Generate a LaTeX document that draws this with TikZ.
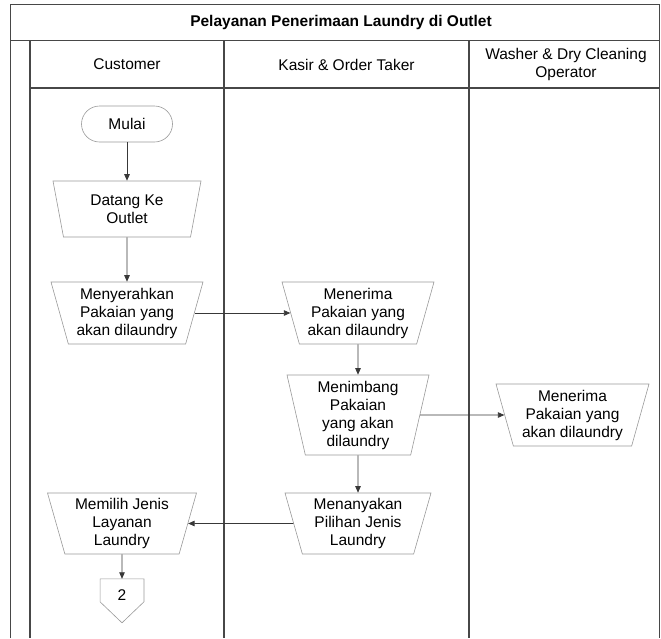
\documentclass[tikz,border=0pt]{standalone}
\usepackage{fontspec}
\setmainfont{Liberation Sans}
\usetikzlibrary{shapes.geometric,arrows.meta,calc}

\begin{document}
\begin{tikzpicture}[x=1pt,y=-1pt,
  frame/.style={draw=black!72, line width=1.2pt},
  lbl/.style={font=\fontsize{15.5}{18}\selectfont, align=center, inner sep=0pt},
  manual/.style={trapezium, trapezium stretches body, draw=black!40, line width=0.6pt,
    inner sep=0pt, align=center, font=\fontsize{15.5}{18}\selectfont,
    trapezium left angle=109, trapezium right angle=109},
  terminal/.style={rectangle, rounded corners=18pt, draw=black!40, line width=0.6pt,
    minimum width=91pt, minimum height=36pt, font=\fontsize{15.5}{18}\selectfont},
  offpage/.style={rectangle, inner sep=0pt, minimum width=43.5pt, minimum height=32pt,
    font=\fontsize{15.5}{18}\selectfont},
  flow/.style={draw=black!78, line width=0.8pt, -{Triangle[length=6.5pt,width=5.5pt]}}
]
\useasboundingbox (0,0) rectangle (661,638);

% swimlane frame
\draw[frame] (10.5,638) -- (10.5,4.5) -- (659.5,4.5) -- (659.5,638);
\draw[frame] (10.5,40.5) -- (659.5,40.5);
\draw[frame] (30,40.5) -- (30,638);
\draw[frame] (30,88) -- (659.5,88);
\draw[frame] (224,40.5) -- (224,638);
\draw[frame] (469,40.5) -- (469,638);

% title and lane headers
\node[lbl, font=\fontsize{15.5}{18}\selectfont\bfseries] (title) at (341,22) {Pelayanan Penerimaan Laundry di Outlet};
\node[lbl] (hcust) at (127,64.5) {Customer};
\node[lbl] (hkasir) at (346.5,64.5) {Kasir \& Order Taker};
\node[lbl] (hwash) at (566,64) {Washer \& Dry Cleaning\\Operator};

% customer lane
\node[terminal] (mulai) at (127,124) {Mulai};
\node[manual, trapezium left angle=110, trapezium right angle=110,
  minimum width=148pt, minimum height=56pt] (datang) at (127,209) {Datang Ke\\Outlet};
\node[manual, minimum width=152pt, minimum height=62pt] (serah) at (127,313) {Menyerahkan\\Pakaian yang\\akan dilaundry};
\node[manual, minimum width=149pt, minimum height=61pt] (pilih) at (122,523.5) {Memilih Jenis\\Layanan\\Laundry};
\node[offpage] (c2) at (122,595) {2};
\draw[draw=black!40, line width=0.6pt] (c2.north west) -- (c2.north east)
  -- ($(c2.north east)+(0,23)$) -- ($(c2.north)+(0,44)$) -- ($(c2.north west)+(0,23)$) -- cycle;

% cashier lane
\node[manual, minimum width=152pt, minimum height=62pt] (terima) at (358,313) {Menerima\\Pakaian yang\\akan dilaundry};
\node[manual, trapezium left angle=105, trapezium right angle=105,
  minimum width=142pt, minimum height=80pt] (timbang) at (358,415) {Menimbang\\Pakaian\\yang akan\\dilaundry};
\node[manual, minimum width=146pt, minimum height=61pt] (tanya) at (358,523.5) {Menanyakan\\Pilihan Jenis\\Laundry};

% operator lane
\node[manual, minimum width=153pt, minimum height=62pt] (opterima) at (572.5,415) {Menerima\\Pakaian yang\\akan dilaundry};

% flow
\draw[flow] (mulai) -- (datang);
\draw[flow] (datang) -- (serah);
\draw[flow] (serah.east) -- (terima.west);
\draw[flow] (terima) -- (timbang);
\draw[flow] (timbang.east) -- (opterima.west);
\draw[flow] (timbang) -- (tanya);
\draw[flow] (tanya.west) -- (pilih.east);
\draw[flow] (pilih.south) -- (c2.north);
\end{tikzpicture}
\end{document}
